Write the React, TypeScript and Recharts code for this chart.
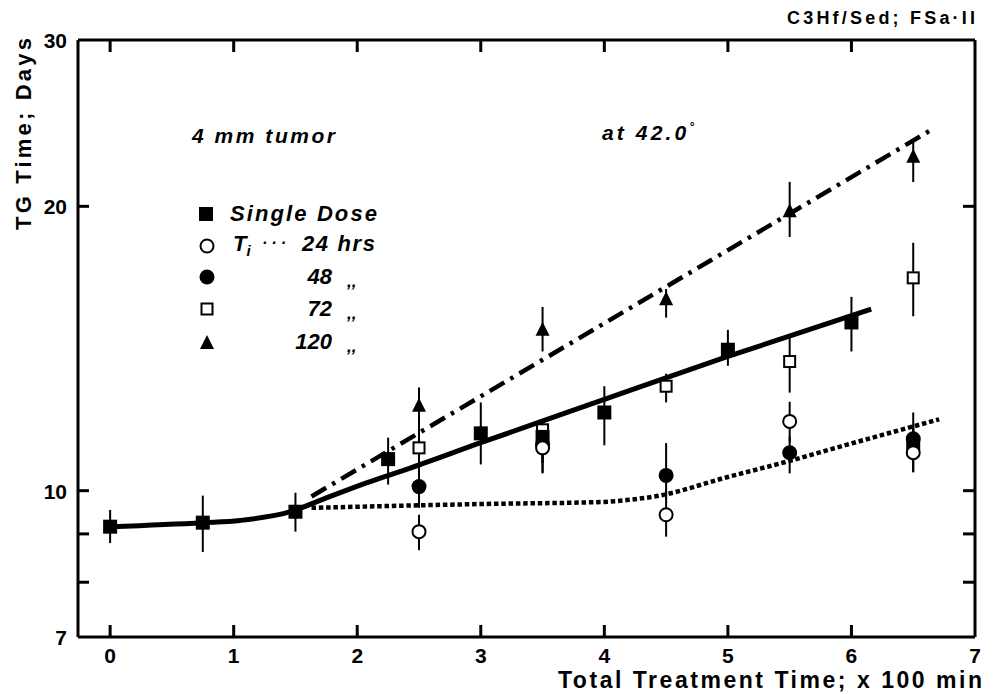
import React from "react";
import { ComposedChart, Scatter, Line, XAxis, YAxis, ErrorBar } from "recharts";

const FONT = "'Liberation Sans', Arial, Helvetica, sans-serif";

// axis ticks
const xTicks = [0, 1, 2, 3, 4, 5, 6, 7];
const yTicks = [7, 8, 9, 10, 20, 30];
const yLabels = [7, 10, 20, 30];

// single dose (filled squares)
const singleX = [0, 0.75, 1.5, 2.25, 3, 3.5, 4, 5, 6, 6.5];
const singleY = [9.16, 9.25, 9.5, 10.8, 11.5, 11.4, 12.1, 14.1, 15.07, 11.23];
const singleLo = [0.36, 0.64, 0.45, 0.65, 0.84, 0.7, 0.93, 0.54, 1.03, 0.77];
const singleHi = [0.38, 0.63, 0.45, 0.58, 0.9, 0.3, 0.8, 0.7, 0.97, 0.87];

// split doses, interval Ti
const splitX = [2.5, 3.5, 4.5, 5.5, 6.5];
const h24Y = [9.05, 11.1, 9.43, 11.84, 10.97];
const h24Lo = [0.4, 0.67, 0.49, 0.59, 0.51];
const h24Hi = [0.38, 0.3, 0.57, 0.58, 0.73];
const h48Y = [10.1, 11.2, 10.38, 10.97, 11.35];
const h48Lo = [0.51, 0.75, 0.6, 0.54, 0.5];
const h48Hi = [0.55, 0.3, 0.85, 0.44, 0.4];
const h72Y = [11.1, 11.6, 12.9, 13.7, 16.8];
const h72Lo = [0.58, 0.9, 0.5, 1.0, 1.5];
const h72Hi = [0.72, 0.3, 0.4, 0.84, 1.5];
const h120Y = [12.3, 14.8, 15.95, 19.76, 22.57];
const h120Lo = [0.6, 0.76, 0.7, 1.2, 1.35];
const h120Hi = [0.56, 0.85, 0.4, 1.47, 0.85];

// fitted curves
const solidX = [0, 0.75, 1.05, 1.46, 1.71, 2.08, 2.44, 3.0, 4.0, 5.0, 6.16];
const solidY = [9.16, 9.25, 9.3, 9.5, 9.78, 10.2, 10.58, 11.24, 12.49, 13.87, 15.57];
const dashDotX = [1.63, 6.67];
const dashDotY = [9.86, 24.2];
const dottedX = [1.63, 3.0, 4.0, 4.2, 4.41, 5.0, 5.45, 6.0, 6.71];
const dottedY = [9.59, 9.68, 9.73, 9.78, 9.86, 10.34, 10.71, 11.22, 11.9];

const pts = (xs: number[], ys: number[], lo?: number[], hi?: number[]) =>
    xs.map((x, i) => ({ x, y: ys[i], err: lo && hi ? [lo[i], hi[i]] : undefined }));

const singleData = pts(singleX, singleY, singleLo, singleHi);
const h24Data = pts(splitX, h24Y, h24Lo, h24Hi);
const h48Data = pts(splitX, h48Y, h48Lo, h48Hi);
const h72Data = pts(splitX, h72Y, h72Lo, h72Hi);
const h120Data = pts(splitX, h120Y, h120Lo, h120Hi);
const solidData = pts(solidX, solidY);
const dashDotData = pts(dashDotX, dashDotY);
const dottedData = pts(dottedX, dottedY);

const FilledSquare = ({ cx, cy }: any) => <rect x={cx - 7} y={cy - 7} width={14} height={14} fill="#000" />;
const OpenCircle = ({ cx, cy }: any) => <circle cx={cx} cy={cy} r={6.5} fill="#fff" stroke="#000" strokeWidth={2} />;
const FilledCircle = ({ cx, cy }: any) => <circle cx={cx} cy={cy} r={7.5} fill="#000" />;
const OpenSquare = ({ cx, cy }: any) => (
    <rect x={cx - 5.5} y={cy - 5.5} width={11} height={11} fill="#fff" stroke="#000" strokeWidth={2} />
);
const Triangle = ({ cx, cy }: any) => (
    <path d={`M${cx},${cy - 8} L${cx + 7},${cy + 6} L${cx - 7},${cy + 6} Z`} fill="#000" />
);

const labelStyle = { fontFamily: FONT, fontWeight: 700, fontSize: 21, fill: "#000" } as const;

const LeftTick = ({ x, y, payload }: any) => {
    const v = payload.value;
    return (
        <g>
            {v !== 7 && v !== 30 && <line x1={x} x2={x + 11} y1={y} y2={y} stroke="#000" strokeWidth={3} />}
            {yLabels.includes(v) && (
                <text x={x - 11} y={y + 8} textAnchor="end" style={labelStyle}>{v}</text>
            )}
        </g>
    );
};
const RightTick = ({ x, y, payload }: any) => {
    const v = payload.value;
    if (v === 7 || v === 30) return <g />;
    return <line x1={x} x2={x - 12} y1={y} y2={y} stroke="#000" strokeWidth={3} />;
};
const BottomTick = ({ x, y, payload }: any) => {
    const v = payload.value;
    return (
        <g>
            {v !== 7 && <line x1={x} x2={x} y1={y} y2={y - 12} stroke="#000" strokeWidth={3} />}
            <text x={x} y={y + 26} textAnchor="middle" style={labelStyle}>{v}</text>
        </g>
    );
};
const TopTick = ({ x, y, payload }: any) => {
    if (payload.value === 7) return <g />;
    return <line x1={x} x2={x} y1={y} y2={y + 12} stroke="#000" strokeWidth={3} />;
};

const axisLine = { stroke: "#000", strokeWidth: 3 };
const bi = { fontFamily: FONT, fontWeight: 700, fontStyle: "italic", fill: "#000" } as const;

export default function App() {
    return (
        <div style={{ position: "absolute", left: 0, top: 0, width: 997, height: 694, background: "#fff" }}>
            <ComposedChart width={997} height={694} margin={{ top: 39, right: 21, bottom: 0, left: 0 }}>
                <XAxis dataKey="x" type="number" domain={[-0.26, 7]} ticks={xTicks} interval={0}
                    height={57} tickSize={0} tickMargin={0} axisLine={axisLine} tickLine={false}
                    tick={<BottomTick />} allowDataOverflow />
                <XAxis xAxisId="top" orientation="top" dataKey="x" type="number" domain={[-0.26, 7]}
                    ticks={xTicks} interval={0} height={1} tickSize={0} tickMargin={0}
                    axisLine={axisLine} tickLine={false} tick={<TopTick />} allowDataOverflow />
                <YAxis dataKey="y" type="number" scale="log" domain={[7, 30]} ticks={yTicks} interval={0}
                    width={78} tickSize={0} tickMargin={0} axisLine={axisLine} tickLine={false}
                    tick={<LeftTick />} allowDataOverflow />
                <YAxis yAxisId="right" orientation="right" dataKey="y" type="number" scale="log" domain={[7, 30]}
                    ticks={yTicks} interval={0} width={1} tickSize={0} tickMargin={0} axisLine={axisLine}
                    tickLine={false} tick={<RightTick />} allowDataOverflow />

                {/* invisible series so the top and right frame axes are drawn */}
                <Line data={solidData} xAxisId="top" yAxisId="right" dataKey="y" stroke="none"
                    dot={false} isAnimationActive={false} />

                <Line data={dottedData} dataKey="y" type="monotone" stroke="#000" strokeWidth={4.5}
                    strokeDasharray="4.5 2.8" dot={false} isAnimationActive={false} />
                <Line data={dashDotData} dataKey="y" type="linear" stroke="#000" strokeWidth={4.5}
                    strokeDasharray="17 7 3.5 7" dot={false} isAnimationActive={false} />
                <Line data={solidData} dataKey="y" type="monotone" stroke="#000" strokeWidth={5}
                    dot={false} isAnimationActive={false} />

                <Scatter data={h120Data} shape={Triangle} isAnimationActive={false}>
                    <ErrorBar dataKey="err" direction="y" width={0} stroke="#000" strokeWidth={2} />
                </Scatter>
                <Scatter data={h72Data} shape={OpenSquare} isAnimationActive={false}>
                    <ErrorBar dataKey="err" direction="y" width={0} stroke="#000" strokeWidth={2} />
                </Scatter>
                <Scatter data={singleData} shape={FilledSquare} isAnimationActive={false}>
                    <ErrorBar dataKey="err" direction="y" width={0} stroke="#000" strokeWidth={2} />
                </Scatter>
                <Scatter data={h48Data} shape={FilledCircle} isAnimationActive={false}>
                    <ErrorBar dataKey="err" direction="y" width={0} stroke="#000" strokeWidth={2} />
                </Scatter>
                <Scatter data={h24Data} shape={OpenCircle} isAnimationActive={false}>
                    <ErrorBar dataKey="err" direction="y" width={0} stroke="#000" strokeWidth={2} />
                </Scatter>
            </ComposedChart>

            <svg width={997} height={694} style={{ position: "absolute", left: 0, top: 0, pointerEvents: "none" }}>
                <text x={975} y={24} textAnchor="end" textLength={188} lengthAdjust="spacing"
                    style={{ fontFamily: FONT, fontWeight: 700, fontSize: 18, fill: "#000" }}>C3Hf/Sed;  FSa·II</text>
                <text x={31} y={134} transform="rotate(-90 31 134)" textAnchor="middle" textLength={192}
                    lengthAdjust="spacing" style={{ ...labelStyle, fontSize: 22 }}>TG Time;  Days</text>
                <text x={982} y={688} textAnchor="end" textLength={424} lengthAdjust="spacing"
                    style={{ ...labelStyle, fontSize: 23 }}>Total Treatment Time;  x 100 min</text>

                <text x={192} y={143} textLength={143} lengthAdjust="spacing" style={{ ...bi, fontSize: 21 }}>4 mm  tumor</text>
                <text x={602} y={140} textLength={92} lengthAdjust="spacing" style={{ ...bi, fontSize: 21 }}>at 42.0<tspan dy={-9} fontSize={12}>°</tspan></text>

                {/* legend */}
                <FilledSquare cx={206} cy={214} />
                <text x={230} y={221} textLength={147} lengthAdjust="spacing" style={{ ...bi, fontSize: 22 }}>Single  Dose</text>
                <OpenCircle cx={207} cy={246} />
                <text x={233} y={251} style={{ ...bi, fontSize: 22 }}>T<tspan dy={5} fontSize={15}>i</tspan></text>
                <text x={262} y={248} style={{ ...bi, fontSize: 16 }} letterSpacing={4}>···</text>
                <text x={302} y={251} textLength={73} lengthAdjust="spacing" style={{ ...bi, fontSize: 22 }}>24 hrs</text>
                <FilledCircle cx={207} cy={277} />
                <text x={332} y={284} textAnchor="end" style={{ ...bi, fontSize: 22 }}>48</text>
                <text x={347} y={287} style={{ ...bi, fontSize: 17 }}>,,</text>
                <OpenSquare cx={207} cy={309} />
                <text x={332} y={316} textAnchor="end" style={{ ...bi, fontSize: 22 }}>72</text>
                <text x={347} y={319} style={{ ...bi, fontSize: 17 }}>,,</text>
                <Triangle cx={207} cy={343} />
                <text x={332} y={349} textAnchor="end" style={{ ...bi, fontSize: 22 }}>120</text>
                <text x={347} y={352} style={{ ...bi, fontSize: 17 }}>,,</text>
            </svg>
        </div>
    );
}
